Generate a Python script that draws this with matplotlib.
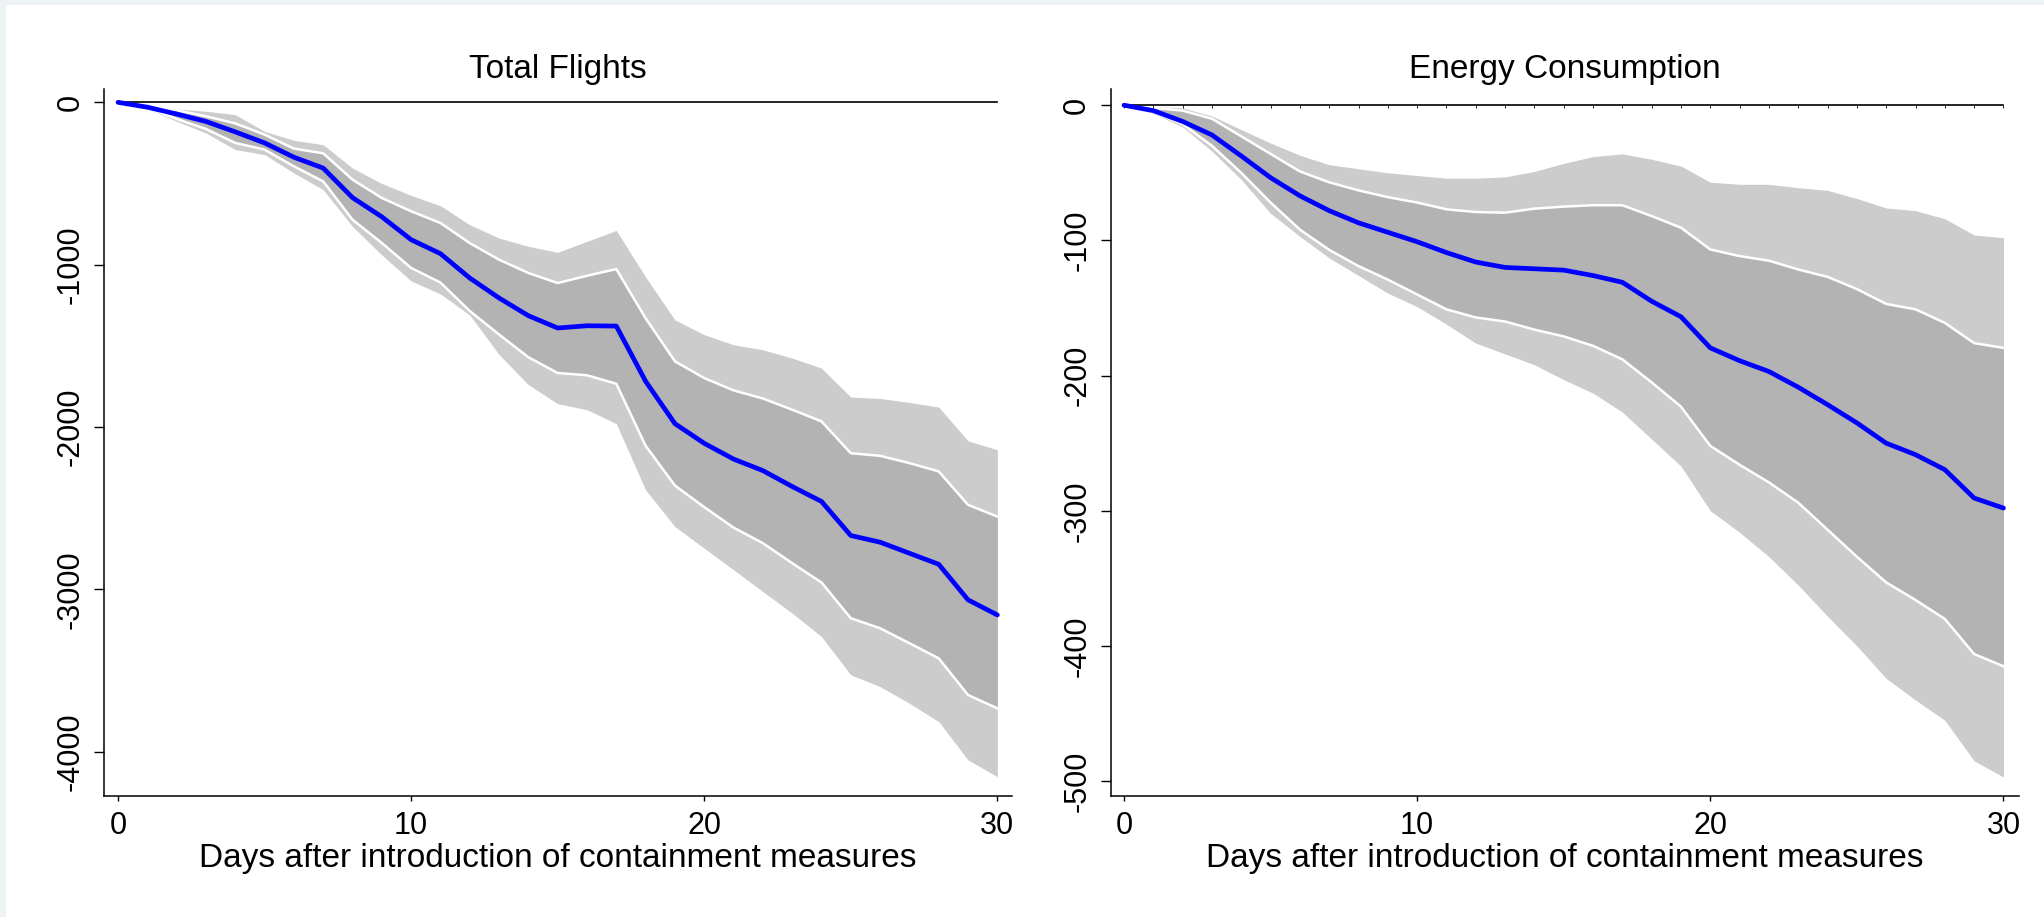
import matplotlib
matplotlib.use("Agg")
import matplotlib.pyplot as plt
import numpy as np
from matplotlib.patches import Rectangle

plt.rcParams["font.family"] = ["Liberation Sans", "DejaVu Sans"]

DAYS = np.arange(31)

# Total Flights: point estimate and two bands (inner = dark, outer = light)
FL_EST = [0, -30, -72, -118, -182, -250, -338, -405, -587, -705, -846, -932, -1082,
          -1205, -1314, -1390, -1376, -1378, -1718, -1979, -2100, -2197, -2268,
          -2366, -2458, -2668, -2709, -2777, -2845, -3064, -3157]
FL_IN_HI = [0, -20, -49, -86, -130, -199, -285, -314, -476, -589, -671, -743, -867,
            -969, -1051, -1113, -1068, -1027, -1330, -1595, -1698, -1774, -1824,
            -1893, -1965, -2161, -2177, -2222, -2273, -2479, -2551]
FL_IN_LO = [0, -35, -102, -164, -250, -291, -394, -487, -723, -866, -1020, -1110,
            -1285, -1430, -1570, -1667, -1681, -1733, -2115, -2360, -2493, -2619,
            -2715, -2838, -2957, -3177, -3239, -3331, -3424, -3650, -3732]
FL_OUT_HI = [0, -10, -41, -55, -76, -179, -234, -261, -405, -500, -573, -637, -754,
             -836, -887, -924, -856, -789, -1076, -1340, -1431, -1493, -1524, -1575,
             -1637, -1815, -1824, -1848, -1877, -2085, -2140]
FL_OUT_LO = [0, -40, -117, -189, -291, -322, -435, -538, -764, -940, -1100, -1180,
             -1310, -1553, -1739, -1856, -1893, -1979, -2387, -2613, -2746, -2879,
             -3013, -3146, -3290, -3526, -3598, -3701, -3814, -4050, -4153]

# Energy Consumption
EN_EST = [0, -4, -12, -22, -37.5, -53.6, -67, -78, -87, -94, -101, -109, -116, -120,
          -121, -122, -126, -131, -145, -156.5, -179.5, -189, -197, -208.6, -221.5,
          -235, -250, -258.5, -269.6, -290.6, -298]
EN_IN_HI = [0, -2, -4, -10, -23, -36, -49, -57, -63, -68, -72, -77, -79, -79.5, -76.5,
            -75, -74, -74, -82, -90.6, -106.7, -111.6, -115, -121.5, -127, -136, -147,
            -151, -161, -176, -179.5]
EN_IN_LO = [0, -5, -14, -30, -50, -72, -92, -107, -119, -129, -140, -151, -157, -160,
            -166, -171, -178, -188, -205, -223, -252, -266, -279, -294, -314, -334,
            -353, -366, -380, -406, -415]
EN_OUT_HI = [0, -1, -2, -8, -18, -28, -37, -44, -47, -50, -52, -54, -54, -53, -49, -43,
             -38, -36, -40, -45, -57, -58.5, -58.5, -61, -63, -69, -76, -78, -84, -96,
             -98]
EN_OUT_LO = [0, -6, -16, -34, -55, -80, -97, -113, -126, -139, -149, -162, -176, -184,
             -192, -203, -213, -227, -247, -267, -300, -316, -334, -355, -378, -400,
             -424, -440, -455, -485, -497]

TITLES = ["Total Flights", "Energy Consumption"]
XLABEL = "Days after introduction of containment measures"
YTICKS = [[0, -1000, -2000, -3000, -4000], [0, -100, -200, -300, -400, -500]]
XTICKS = [0, 10, 20, 30]

LIGHT = "#cccccc"
DARK = "#b3b3b3"
BLUE = "#0000ff"


def panel(ax, est, in_hi, in_lo, out_hi, out_lo, title, yticks, ylim, xlim, zero_ticks):
    ax.fill_between(DAYS, out_lo, out_hi, color=LIGHT, lw=0, zorder=1)
    ax.fill_between(DAYS, in_lo, in_hi, color=DARK, lw=0, zorder=2)
    ax.plot(DAYS, in_hi, color="white", lw=1.8, zorder=3)
    ax.plot(DAYS, in_lo, color="white", lw=1.8, zorder=3)
    if zero_ticks:
        ax.plot(DAYS, np.zeros(len(DAYS)), color="black", lw=1.2, zorder=4,
                marker=3, ms=1.8, mew=0.6)
    else:
        ax.plot(DAYS, np.zeros(len(DAYS)), color="black", lw=1.2, zorder=4)
    ax.plot(DAYS, est, color=BLUE, lw=3.4, zorder=5, solid_capstyle="round")
    ax.set_xlim(xlim)
    ax.set_ylim(ylim)
    ax.set_xticks(XTICKS)
    ax.set_yticks(yticks)
    ax.set_yticklabels([str(v) for v in yticks], rotation=90, va="center")
    ax.tick_params(axis="x", length=3.5, width=1.0, pad=7, labelsize=22)
    ax.tick_params(axis="y", length=7, width=1.0, pad=6.5, labelsize=22)
    for s in ("top", "right"):
        ax.spines[s].set_visible(False)
    for s in ("left", "bottom"):
        ax.spines[s].set_linewidth(1.1)
    ax.set_title(title, fontsize=24, pad=8)
    ax.set_xlabel(XLABEL, fontsize=24, labelpad=2)


fig = plt.figure(figsize=(20.44, 9.17), dpi=100, facecolor="#edf2f4")
fig.patches.append(Rectangle((6 / 2044, 0), 1, 1 - 5 / 917, transform=fig.transFigure,
                             facecolor="white", edgecolor="none", zorder=-1))

ax1 = fig.add_axes([104 / 2044, 121 / 917, 908 / 2044, 707 / 917])
ax2 = fig.add_axes([1111 / 2044, 121 / 917, 908 / 2044, 707 / 917])
for a in (ax1, ax2):
    a.patch.set_alpha(0)

panel(ax1, FL_EST, FL_IN_HI, FL_IN_LO, FL_OUT_HI, FL_OUT_LO, TITLES[0], YTICKS[0],
      (-4272, 82), (-0.478, 30.5), False)
panel(ax2, EN_EST, EN_IN_HI, EN_IN_LO, EN_OUT_HI, EN_OUT_LO, TITLES[1], YTICKS[1],
      (-511, 12), (-0.443, 30.53), True)

fig.savefig("out.png", dpi=100, facecolor=fig.get_facecolor())
